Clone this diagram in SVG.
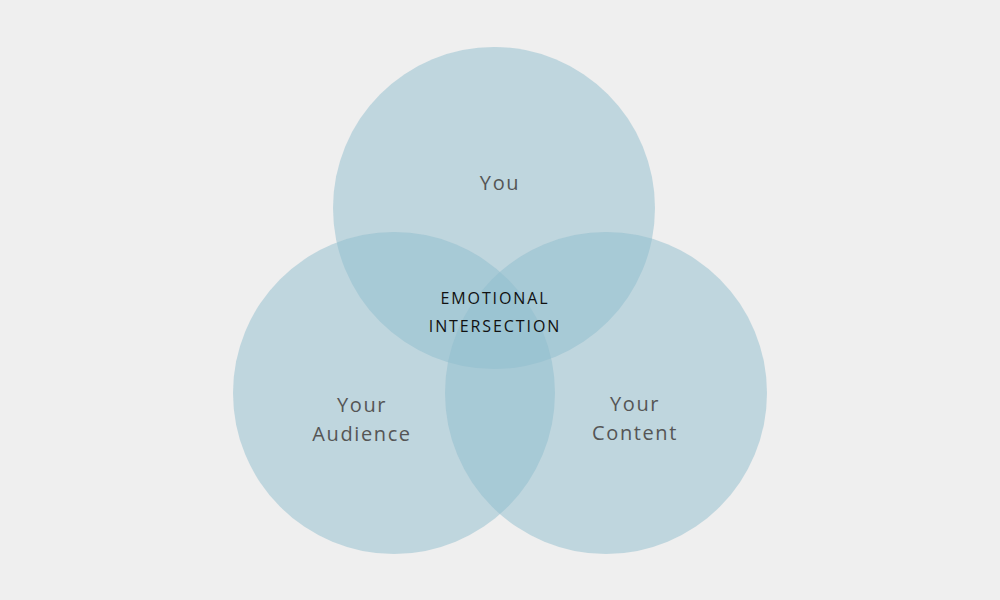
<svg xmlns="http://www.w3.org/2000/svg" width="1000" height="600" viewBox="0 0 1000 600">
<style>
.c{fill:rgb(143,189,205);fill-opacity:0.5}
.l{font-family:"Open Sans","Liberation Sans",sans-serif;font-size:20px;fill:#555;text-anchor:middle;letter-spacing:1.6px}
.e{font-family:"Open Sans","Liberation Sans",sans-serif;font-size:16px;fill:#111;text-anchor:middle;letter-spacing:1.9px}
</style>
<rect width="1000" height="600" fill="#efefef"/>
<g id="you"><circle class="c" cx="494" cy="208" r="161"/><text class="l" x="500" y="190">You</text></g>
<g id="audience"><circle class="c" cx="394" cy="393" r="161"/><text class="l" x="362" y="412">Your</text><text class="l" x="362" y="441">Audience</text></g>
<g id="content"><circle class="c" cx="606" cy="393" r="161"/><text class="l" x="635" y="411">Your</text><text class="l" x="635" y="440">Content</text></g>
<g id="intersection"><text class="e" x="495" y="304">EMOTIONAL</text><text class="e" x="495" y="332">INTERSECTION</text></g>
<g id="connectors"/>
</svg>
